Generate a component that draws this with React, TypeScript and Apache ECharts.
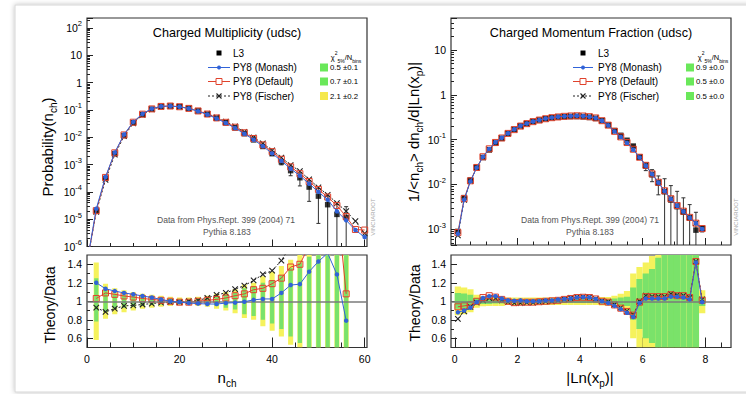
import React, { useEffect, useRef } from 'react';
import * as echarts from 'echarts';

const FONT = '"Liberation Sans", Arial, Helvetica, sans-serif';
const BLUE = '#3163d8';
const RED = '#e0422c';
const DARK = '#222222';
const YELLOW = '#f5f25c';
const GREEN = '#7ae26a';

// ---------------- Left panel: Charged Multiplicity ----------------
const nchBins = [2, 4, 6, 8, 10, 12, 14, 16, 18, 20, 22, 24, 26, 28, 30, 32, 34, 36, 38, 40, 42, 44, 46, 48, 50, 52, 54, 56];
const l3Nch = [2.0e-5, 3.1e-4, 2.5e-3, 1.15e-2, 3.4e-2, 6.8e-2, 0.107, 0.133, 0.139, 0.132, 0.115, 0.092, 0.070, 0.050, 0.034, 0.022, 0.0135, 0.0080, 0.0046, 0.0025, 0.00125, 6.0e-4, 3.3e-4, 1.5e-4, 7.0e-5, 3.4e-5, 1.5e-5, 1.15e-5];
const l3NchRelErr = [0.03, 0.02, 0.02, 0.02, 0.02, 0.02, 0.02, 0.02, 0.02, 0.02, 0.02, 0.02, 0.03, 0.03, 0.04, 0.05, 0.06, 0.08, 0.1, 0.14, 0.22, 0.35, 0.5, 0.7, 0.9, 1.1, 1.3, 1.5];
const ratioNchMonash = [1.20, 1.135, 1.11, 1.09, 1.075, 1.057, 1.04, 1.02, 1.0, 0.99, 0.98, 0.975, 0.97, 0.97, 0.98, 0.985, 0.995, 1.015, 1.025, 1.025, 1.09, 1.175, 1.185, 1.32, 1.43, 1.52, 1.29, 0.79];
const ratioNchDefault = [1.03, 1.09, 1.075, 1.057, 1.045, 1.03, 1.02, 1.01, 1.0, 0.99, 0.99, 1.0, 1.01, 1.02, 1.035, 1.06, 1.08, 1.125, 1.14, 1.19, 1.25, 1.37, 1.40, 1.6, 1.75, 1.9, 2.1, 1.08];
const ratioNchFischer = [0.93, 0.885, 0.92, 0.95, 0.955, 0.965, 0.975, 0.985, 0.99, 0.99, 1.0, 1.01, 1.035, 1.07, 1.09, 1.13, 1.17, 1.225, 1.29, 1.33, 1.44, 1.6, 1.75, 1.9, 2.1, 2.3, 2.6, 1.7];
const mcNchFirstBin = 0;
const mcNchFirstValue = 2.5e-7;
const mcNchTailBins = [58, 60];
const mcNchTailMonash = [4.0e-6, 2.2e-6];
const mcNchTailDefault = [4.2e-6, 4.0e-6];
const mcNchTailFischer = [8.5e-6, 3.0e-6];
const bandNchYellowHi = [1.42, 1.19, 1.14, 1.12, 1.10, 1.08, 1.07, 1.06, 1.05, 1.04, 1.04, 1.05, 1.06, 1.08, 1.10, 1.13, 1.18, 1.20, 1.27, 1.32, 1.38, 1.45, 1.6, 1.6, 1.6, 1.6, 1.6, 1.6];
const bandNchYellowLo = [0.58, 0.81, 0.86, 0.88, 0.90, 0.92, 0.93, 0.94, 0.95, 0.96, 0.96, 0.95, 0.94, 0.92, 0.90, 0.87, 0.82, 0.80, 0.73, 0.68, 0.62, 0.53, 0.4, 0.4, 0.4, 0.4, 0.4, 0.4];
const bandNchGreenHi = [1.25, 1.12, 1.08, 1.07, 1.06, 1.05, 1.04, 1.035, 1.03, 1.025, 1.025, 1.03, 1.04, 1.05, 1.07, 1.09, 1.14, 1.16, 1.20, 1.23, 1.28, 1.36, 1.42, 1.48, 1.6, 1.6, 1.6, 1.6];
const bandNchGreenLo = [0.78, 0.88, 0.92, 0.93, 0.94, 0.95, 0.96, 0.965, 0.97, 0.975, 0.975, 0.97, 0.96, 0.95, 0.93, 0.91, 0.86, 0.84, 0.80, 0.76, 0.70, 0.62, 0.55, 0.5, 0.4, 0.4, 0.4, 0.4];
const chiNchValues = ['0.5 ±0.1', '0.7 ±0.1', '2.1 ±0.2'];
const chiNchColors = ['#6ae85a', '#6ae85a', '#f5e84c'];

// ---------------- Right panel: Charged Momentum Fraction ----------------
const xpBins = [0.1, 0.3, 0.5, 0.7, 0.9, 1.1, 1.3, 1.5, 1.7, 1.9, 2.1, 2.3, 2.5, 2.7, 2.9, 3.1, 3.3, 3.5, 3.7, 3.9, 4.1, 4.3, 4.5, 4.7, 4.9, 5.1, 5.3, 5.5, 5.7, 5.9, 6.1, 6.3, 6.5, 6.7, 6.9, 7.1, 7.3, 7.5, 7.7, 7.9];
const l3Xp = [9.0e-4, 5.1e-3, 1.26e-2, 0.024, 0.040, 0.059, 0.083, 0.107, 0.138, 0.17, 0.203, 0.23, 0.255, 0.275, 0.293, 0.308, 0.318, 0.325, 0.328, 0.328, 0.323, 0.313, 0.298, 0.265, 0.213, 0.160, 0.125, 0.097, 0.072, 0.041, 0.0255, 0.0165, 0.0107, 0.0069, 0.0045, 0.0032, 0.0024, 0.00178, 9.6e-4, 1.03e-3];
const l3XpRelErr = [0.05, 0.04, 0.03, 0.03, 0.03, 0.03, 0.03, 0.03, 0.03, 0.03, 0.03, 0.03, 0.03, 0.03, 0.03, 0.03, 0.03, 0.03, 0.03, 0.03, 0.03, 0.03, 0.03, 0.03, 0.03, 0.03, 0.03, 0.04, 0.05, 0.1, 0.2, 0.3, 0.45, 0.95, 1.1, 1.2, 1.1, 1.0, 1.5, 0.15];
const ratioXpMonash = [0.88, 0.90, 0.93, 0.99, 1.035, 1.055, 1.055, 1.03, 1.01, 1.005, 1.01, 1.0, 1.0, 1.0, 1.01, 1.01, 1.02, 1.025, 1.03, 1.04, 1.043, 1.04, 1.025, 1.0, 0.98, 0.95, 0.915, 0.875, 0.83, 0.98, 1.03, 1.03, 1.03, 1.03, 1.05, 1.05, 1.04, 1.02, 1.42, 0.99];
const ratioXpDefault = [0.94, 0.95, 0.96, 1.0, 1.04, 1.06, 1.045, 1.02, 1.0, 0.985, 0.99, 0.99, 0.99, 0.995, 1.0, 1.005, 1.01, 1.02, 1.03, 1.04, 1.043, 1.04, 1.025, 1.0, 0.99, 0.96, 0.925, 0.89, 0.85, 0.99, 1.05, 1.05, 1.05, 1.05, 1.07, 1.06, 1.06, 1.04, 1.43, 1.01];
const ratioXpFischer = [0.81, 0.89, 0.94, 0.985, 1.01, 1.035, 1.03, 1.01, 0.99, 0.98, 0.98, 0.985, 0.985, 0.99, 0.995, 1.0, 1.01, 1.02, 1.035, 1.045, 1.047, 1.045, 1.025, 1.005, 0.995, 0.965, 0.93, 0.895, 0.855, 1.0, 1.06, 1.05, 1.05, 1.05, 1.08, 1.07, 1.06, 1.04, 1.43, 1.02];
const bandXpYellowHi = [1.16, 1.15, 1.13, 1.07, 1.055, 1.05, 1.05, 1.05, 1.04, 1.04, 1.04, 1.04, 1.04, 1.04, 1.04, 1.04, 1.04, 1.04, 1.04, 1.04, 1.04, 1.04, 1.04, 1.045, 1.045, 1.06, 1.08, 1.11, 1.30, 1.37, 1.42, 1.49, 1.6, 1.6, 1.6, 1.6, 1.6, 1.6, 1.6, 1.12];
const bandXpYellowLo = [0.85, 0.86, 0.88, 0.93, 0.945, 0.95, 0.95, 0.95, 0.96, 0.96, 0.96, 0.96, 0.96, 0.96, 0.96, 0.96, 0.96, 0.96, 0.96, 0.96, 0.96, 0.96, 0.96, 0.955, 0.955, 0.94, 0.92, 0.89, 0.60, 0.50, 0.45, 0.4, 0.4, 0.4, 0.4, 0.4, 0.4, 0.4, 0.4, 0.87];
const bandXpGreenHi = [1.09, 1.085, 1.07, 1.035, 1.03, 1.03, 1.025, 1.025, 1.02, 1.02, 1.02, 1.02, 1.02, 1.02, 1.02, 1.02, 1.02, 1.02, 1.02, 1.02, 1.02, 1.02, 1.02, 1.022, 1.022, 1.03, 1.04, 1.05, 1.15, 1.24, 1.30, 1.35, 1.47, 1.6, 1.6, 1.6, 1.6, 1.6, 1.6, 1.05];
const bandXpGreenLo = [0.92, 0.925, 0.935, 0.965, 0.97, 0.97, 0.975, 0.975, 0.98, 0.98, 0.98, 0.98, 0.98, 0.98, 0.98, 0.98, 0.98, 0.98, 0.98, 0.98, 0.98, 0.98, 0.98, 0.978, 0.978, 0.97, 0.96, 0.95, 0.80, 0.70, 0.60, 0.55, 0.48, 0.4, 0.4, 0.4, 0.4, 0.4, 0.4, 0.95];
const chiXpValues = ['0.9 ±0.0', '0.5 ±0.0', '0.5 ±0.0'];
const chiXpColors = ['#6ae85a', '#6ae85a', '#6ae85a'];

// ---------------- axis tick positions ----------------
const nchMajorTicks = [0, 20, 40, 60];
const nchMinorTicks = [5, 10, 15, 25, 30, 35, 45, 50, 55];
const xpMajorTicks = [0, 2, 4, 6, 8];
const xpMinorTicks = [0.5, 1, 1.5, 2.5, 3, 3.5, 4.5, 5, 5.5, 6.5, 7, 7.5, 8.5];
const ratioMajorTicks = [0.6, 0.8, 1, 1.2, 1.4];
const ratioMinorTicks = [0.7, 0.9, 1.1, 1.3];

const NCH_MIN = 0, NCH_MAX = 60.5;
const XP_MIN = -0.12, XP_MAX = 8.82;
const PNCH_MIN = 1e-6, PNCH_MAX = 232.3;
const PXP_MIN = 4.47e-4, PXP_MAX = 51.8;
const R_MIN = 0.5, R_MAX = 1.5;

function logMinor(min: number, max: number) {
  const out: number[] = [];
  const lmin = Math.log10(min), lmax = Math.log10(max);
  for (let e = Math.floor(lmin); e <= Math.ceil(lmax); e++) {
    for (let k = 2; k <= 9; k++) {
      const l = e + Math.log10(k);
      if (l > lmin && l < lmax) out.push(l);
    }
  }
  return out;
}

const logLabel = (v: number) => {
  const e = Math.log10(v);
  const r = Math.round(e);
  if (Math.abs(e - r) > 1e-3) return '';
  if (r === 0) return '1';
  if (r === 1) return '10';
  return '10{sup|' + r + '}';
};

const tickLine = { color: DARK, width: 1 };
const labelBase = { fontSize: 10.5, fontFamily: FONT, color: '#000' };
const noLine = { show: false, onZero: false };

function xPair(grid: number, min: number, max: number, major: number[], minor: number[], labels: boolean, majLen: number, minLen: number) {
  return [
    {
      type: 'value', gridIndex: grid, min, max, position: 'bottom',
      axisLine: noLine, splitLine: { show: false },
      axisTick: { show: true, inside: true, length: majLen, customValues: major, lineStyle: tickLine },
      axisLabel: { show: labels, customValues: major, margin: 6, ...labelBase },
    },
    {
      type: 'value', gridIndex: grid, min, max, position: 'bottom',
      axisLine: noLine, splitLine: { show: false },
      axisTick: { show: true, inside: true, length: minLen, customValues: minor, lineStyle: tickLine },
      axisLabel: { show: false },
    },
  ];
}

function yLogPair(grid: number, min: number, max: number) {
  return [
    {
      type: 'log', logBase: 10, gridIndex: grid, min, max, position: 'left',
      axisLine: noLine, splitLine: { show: false },
      axisTick: { show: true, inside: true, length: 6, lineStyle: tickLine },
      axisLabel: {
        show: true, formatter: logLabel, margin: 5, lineHeight: 16, ...labelBase,
        rich: { sup: { fontSize: 7.5, fontFamily: FONT, color: '#000', verticalAlign: 'top', lineHeight: 9 } },
      },
    },
    {
      type: 'value', gridIndex: grid, min: Math.log10(min), max: Math.log10(max), position: 'left',
      axisLine: noLine, splitLine: { show: false },
      axisTick: { show: true, inside: true, length: 3, customValues: logMinor(min, max), lineStyle: tickLine },
      axisLabel: { show: false },
    },
  ];
}

function yRatioPair(grid: number) {
  return [
    {
      type: 'value', gridIndex: grid, min: R_MIN, max: R_MAX, position: 'left',
      axisLine: noLine, splitLine: { show: false },
      axisTick: { show: true, inside: true, length: 6, customValues: ratioMajorTicks, lineStyle: tickLine },
      axisLabel: { show: true, customValues: ratioMajorTicks, margin: 5, ...labelBase },
    },
    {
      type: 'value', gridIndex: grid, min: R_MIN, max: R_MAX, position: 'left',
      axisLine: noLine, splitLine: { show: false },
      axisTick: { show: true, inside: true, length: 3, customValues: ratioMinorTicks, lineStyle: tickLine },
      axisLabel: { show: false },
    },
  ];
}

function errorBars(xi: number, yi: number, bins: number[], vals: number[], rel: number[]) {
  return {
    type: 'custom', xAxisIndex: xi, yAxisIndex: yi, z: 2, silent: true, clip: true,
    data: bins.map((b, i) => [b, Math.max(vals[i] * (1 - rel[i]), 1e-12), vals[i] * (1 + rel[i])]),
    renderItem: (params: any, api: any) => {
      const cs = params.coordSys;
      const x = api.value(0);
      const lo = api.value(1);
      const hi = api.value(2);
      const top = api.coord([x, hi]);
      const botRaw = api.coord([x, lo])[1];
      const yTop = Math.max(top[1], cs.y);
      const yBot = Math.min(botRaw, cs.y + cs.height);
      const st = { stroke: '#303030', lineWidth: 1 };
      const children: any[] = [{ type: 'line', shape: { x1: top[0], y1: yTop, x2: top[0], y2: yBot }, style: st }];
      if (top[1] >= cs.y) children.push({ type: 'line', shape: { x1: top[0] - 2, y1: top[1], x2: top[0] + 2, y2: top[1] }, style: st });
      if (botRaw <= cs.y + cs.height) children.push({ type: 'line', shape: { x1: top[0] - 2, y1: botRaw, x2: top[0] + 2, y2: botRaw }, style: st });
      return { type: 'group', children };
    },
  };
}

function bands(xi: number, yi: number, bins: number[], yLo: number[], yHi: number[], gLo: number[], gHi: number[], wY: number, wG: number) {
  return {
    type: 'custom', xAxisIndex: xi, yAxisIndex: yi, z: 1, silent: true, clip: true,
    data: bins.map((b, i) => [b, yLo[i], yHi[i], gLo[i], gHi[i]]),
    renderItem: (params: any, api: any) => {
      const cl = (v: number) => Math.min(Math.max(v, R_MIN), R_MAX);
      const x = api.value(0);
      const a = api.coord([x - wY, cl(api.value(2))]);
      const b = api.coord([x + wY, cl(api.value(1))]);
      const c = api.coord([x - wG, cl(api.value(4))]);
      const d = api.coord([x + wG, cl(api.value(3))]);
      return {
        type: 'group', children: [
          { type: 'rect', shape: { x: a[0], y: a[1], width: b[0] - a[0], height: b[1] - a[1] }, style: { fill: YELLOW } },
          { type: 'rect', shape: { x: c[0], y: c[1], width: d[0] - c[0], height: d[1] - c[1] }, style: { fill: GREEN } },
        ],
      };
    },
    markLine: {
      silent: true, symbol: 'none', label: { show: false },
      lineStyle: { color: '#7b7b7b', width: 1.5, type: 'solid' },
      data: [{ yAxis: 1 }],
    },
  };
}

const xSym = 'path://M0,0L10,10M10,0L0,10';

function mcLines(xi: number, yi: number, monash: number[][], def: number[][], fis: number[][]) {
  return [
    {
      type: 'line', name: 'PY8 (Fischer)', xAxisIndex: xi, yAxisIndex: yi, data: fis, z: 3,
      symbol: xSym, symbolSize: 5.5, showAllSymbol: true,
      lineStyle: { color: DARK, width: 1, type: [2, 2] },
      itemStyle: { color: DARK, borderColor: DARK, borderWidth: 1.1 },
    },
    {
      type: 'line', name: 'PY8 (Default)', xAxisIndex: xi, yAxisIndex: yi, data: def, z: 4,
      symbol: 'rect', symbolSize: 6, showAllSymbol: true,
      lineStyle: { color: RED, width: 1 },
      itemStyle: { color: 'rgba(255,255,255,0)', borderColor: RED, borderWidth: 1 },
    },
    {
      type: 'line', name: 'PY8 (Monash)', xAxisIndex: xi, yAxisIndex: yi, data: monash, z: 5,
      symbol: 'circle', symbolSize: 4.5, showAllSymbol: true,
      lineStyle: { color: BLUE, width: 1 },
      itemStyle: { color: BLUE, borderWidth: 0 },
    },
  ];
}

function mcNchTop(ratio: number[], tail: number[]) {
  return [
    [mcNchFirstBin, mcNchFirstValue],
    ...nchBins.map((n, i) => [n, l3Nch[i] * ratio[i]]),
    ...mcNchTailBins.map((n, i) => [n, tail[i]]),
  ];
}
const pairs = (bins: number[], vals: number[]) => bins.map((b, i) => [b, vals[i]]);
const mcXpTop = (ratio: number[]) => xpBins.map((b, i) => [b, l3Xp[i] * ratio[i]]);

// ---------------- graphic helpers ----------------
function txt(text: string, x: number, y: number, size: number, opts: any = {}) {
  const { align = 'left', vAlign = 'middle', fill = '#000', rotation = 0, rich, lineHeight } = opts;
  return {
    type: 'text', x, y, rotation, z: 50,
    style: { text, fontSize: size, fontFamily: FONT, fill, align, verticalAlign: vAlign, rich, lineHeight },
  };
}

function subRich(size: number) {
  return { sub: { fontSize: size, fontFamily: FONT, fill: '#000', verticalAlign: 'bottom', lineHeight: size } };
}

function legendBlock(c: { lx1: number; lx2: number; mx: number; tx: number; rows: number[]; sqX: number; valX: number; hdrX: number; hdrY: number; vals: string[]; cols: string[] }) {
  const els: any[] = [];
  const [r0, r1, r2, r3] = c.rows;
  els.push({ type: 'rect', z: 50, shape: { x: c.mx - 2.5, y: r0 - 2.5, width: 5, height: 5 }, style: { fill: '#000' } });
  els.push(txt('L3', c.tx, r0, 10));
  els.push({ type: 'line', z: 50, shape: { x1: c.lx1, y1: r1, x2: c.lx2, y2: r1 }, style: { stroke: BLUE, lineWidth: 1 } });
  els.push({ type: 'circle', z: 51, shape: { cx: c.mx, cy: r1, r: 2 }, style: { fill: BLUE } });
  els.push(txt('PY8 (Monash)', c.tx, r1, 10));
  els.push({ type: 'line', z: 50, shape: { x1: c.lx1, y1: r2, x2: c.lx2, y2: r2 }, style: { stroke: RED, lineWidth: 1 } });
  els.push({ type: 'rect', z: 51, shape: { x: c.mx - 3, y: r2 - 3, width: 6, height: 6 }, style: { fill: '#fff', stroke: RED, lineWidth: 1 } });
  els.push(txt('PY8 (Default)', c.tx, r2, 10));
  els.push({ type: 'line', z: 50, shape: { x1: c.lx1, y1: r3, x2: c.lx2, y2: r3 }, style: { stroke: DARK, lineWidth: 1, lineDash: [2, 2] } });
  els.push({ type: 'line', z: 51, shape: { x1: c.mx - 2.5, y1: r3 - 2.5, x2: c.mx + 2.5, y2: r3 + 2.5 }, style: { stroke: DARK, lineWidth: 1.1 } });
  els.push({ type: 'line', z: 51, shape: { x1: c.mx - 2.5, y1: r3 + 2.5, x2: c.mx + 2.5, y2: r3 - 2.5 }, style: { stroke: DARK, lineWidth: 1.1 } });
  els.push(txt('PY8 (Fischer)', c.tx, r3, 10));
  els.push(txt('χ{sup|2}{sub|5%}/N{sub|bins}', c.hdrX, c.hdrY, 7.5, {
    align: 'center', lineHeight: 13,
    rich: {
      sup: { fontSize: 5, fontFamily: FONT, fill: '#000', verticalAlign: 'top', lineHeight: 6 },
      sub: { fontSize: 5, fontFamily: FONT, fill: '#000', verticalAlign: 'bottom', lineHeight: 6 },
    },
  }));
  [r1, r2, r3].forEach((r, i) => {
    els.push({ type: 'rect', z: 50, shape: { x: c.sqX, y: r - 4, width: 8, height: 8 }, style: { fill: c.cols[i] } });
    els.push(txt(c.vals[i], c.valX, r, 7.8));
  });
  return els;
}

const graphics: any[] = [
  {
    type: 'rect', z: -100, shape: { x: 15, y: 5, width: 760, height: 387 },
    style: { fill: '#ffffff', stroke: '#d6d6d6', lineWidth: 1, shadowBlur: 5, shadowColor: 'rgba(0,0,0,0.25)' },
  },
  txt('Charged Multiplicity (udsc)', 227, 33, 12.6, { align: 'center' }),
  txt('Charged Momentum Fraction (udsc)', 591, 33, 12.6, { align: 'center' }),
  ...legendBlock({ lx1: 208, lx2: 230, mx: 219, tx: 233, rows: [53, 67.5, 81.5, 96], sqX: 320, valX: 330, hdrX: 346, hdrY: 57, vals: chiNchValues, cols: chiNchColors }),
  ...legendBlock({ lx1: 573, lx2: 593, mx: 583, tx: 598, rows: [53, 67.5, 81.5, 96], sqX: 686, valX: 696, hdrX: 713, hdrY: 57, vals: chiXpValues, cols: chiXpColors }),
  txt('Data from Phys.Rept. 399 (2004) 71', 226, 220, 8.6, { align: 'center', fill: '#555' }),
  txt('Pythia 8.183', 227, 232, 8.6, { align: 'center', fill: '#555' }),
  txt('Data from Phys.Rept. 399 (2004) 71', 590, 220, 8.6, { align: 'center', fill: '#555' }),
  txt('Pythia 8.183', 590, 232, 8.6, { align: 'center', fill: '#555' }),
  txt('VINCIAROOT', 372.5, 217, 6, { align: 'center', fill: '#a8a8a8', rotation: Math.PI / 2 }),
  txt('VINCIAROOT', 735.5, 217, 6, { align: 'center', fill: '#a8a8a8', rotation: Math.PI / 2 }),
  txt('Probability(n{sub|ch})', 47, 147, 15, { align: 'center', rotation: Math.PI / 2, lineHeight: 22, rich: subRich(10) }),
  txt('1/<n{sub|ch}> dn{sub|ch}/d|Ln(x{sub|p})|', 413, 132, 15, { align: 'center', rotation: Math.PI / 2, lineHeight: 22, rich: subRich(10) }),
  txt('Theory/Data', 50, 305, 14, { align: 'center', rotation: Math.PI / 2 }),
  txt('Theory/Data', 415, 303, 14, { align: 'center', rotation: Math.PI / 2 }),
  txt('n{sub|ch}', 227, 377, 15, { align: 'center', lineHeight: 22, rich: subRich(10) }),
  txt('|Ln(x{sub|p})|', 590, 377, 15, { align: 'center', lineHeight: 22, rich: subRich(10) }),
];

const gridStyle = { show: true, borderColor: '#333', borderWidth: 1.2, backgroundColor: 'transparent' };

const option: any = {
  animation: false,
  backgroundColor: '#ffffff',
  grid: [
    { left: 87, top: 18, width: 280, height: 228.5, ...gridStyle },
    { left: 87, top: 255, width: 280, height: 92.5, ...gridStyle },
    { left: 451, top: 18, width: 280, height: 227, ...gridStyle },
    { left: 451, top: 255, width: 280, height: 92.5, ...gridStyle },
  ],
  xAxis: [
    ...xPair(0, NCH_MIN, NCH_MAX, nchMajorTicks, nchMinorTicks, false, 7, 3.5),
    ...xPair(1, NCH_MIN, NCH_MAX, nchMajorTicks, nchMinorTicks, true, 10, 5),
    ...xPair(2, XP_MIN, XP_MAX, xpMajorTicks, xpMinorTicks, false, 7, 3.5),
    ...xPair(3, XP_MIN, XP_MAX, xpMajorTicks, xpMinorTicks, true, 10, 5),
  ],
  yAxis: [
    ...yLogPair(0, PNCH_MIN, PNCH_MAX),
    ...yRatioPair(1),
    ...yLogPair(2, PXP_MIN, PXP_MAX),
    ...yRatioPair(3),
  ],
  graphic: { elements: graphics },
  series: [
    // left top
    errorBars(0, 0, nchBins, l3Nch, l3NchRelErr),
    { type: 'scatter', name: 'L3', xAxisIndex: 0, yAxisIndex: 0, data: pairs(nchBins, l3Nch), symbol: 'rect', symbolSize: 5.5, itemStyle: { color: '#000' }, z: 2 },
    ...mcLines(0, 0, mcNchTop(ratioNchMonash, mcNchTailMonash), mcNchTop(ratioNchDefault, mcNchTailDefault), mcNchTop(ratioNchFischer, mcNchTailFischer)),
    // left ratio
    bands(2, 2, nchBins, bandNchYellowLo, bandNchYellowHi, bandNchGreenLo, bandNchGreenHi, 0.55, 0.45),
    ...mcLines(2, 2, pairs(nchBins, ratioNchMonash), pairs(nchBins, ratioNchDefault), pairs(nchBins, ratioNchFischer)),
    // right top
    errorBars(4, 4, xpBins, l3Xp, l3XpRelErr),
    { type: 'scatter', name: 'L3', xAxisIndex: 4, yAxisIndex: 4, data: pairs(xpBins, l3Xp), symbol: 'rect', symbolSize: 5.5, itemStyle: { color: '#000' }, z: 2 },
    ...mcLines(4, 4, mcXpTop(ratioXpMonash), mcXpTop(ratioXpDefault), mcXpTop(ratioXpFischer)),
    // right ratio
    bands(6, 6, xpBins, bandXpYellowLo, bandXpYellowHi, bandXpGreenLo, bandXpGreenHi, 0.1, 0.1),
    ...mcLines(6, 6, pairs(xpBins, ratioXpMonash), pairs(xpBins, ratioXpDefault), pairs(xpBins, ratioXpFischer)),
  ],
};

export default function App() {
  const ref = useRef<HTMLDivElement>(null);
  useEffect(() => {
    if (!ref.current) return;
    const chart = echarts.init(ref.current, null, { renderer: 'svg' });
    chart.setOption(option);
    return () => chart.dispose();
  }, []);
  return <div ref={ref} style={{ position: 'fixed', left: 0, top: 0, width: 746, height: 394 }} />;
}
